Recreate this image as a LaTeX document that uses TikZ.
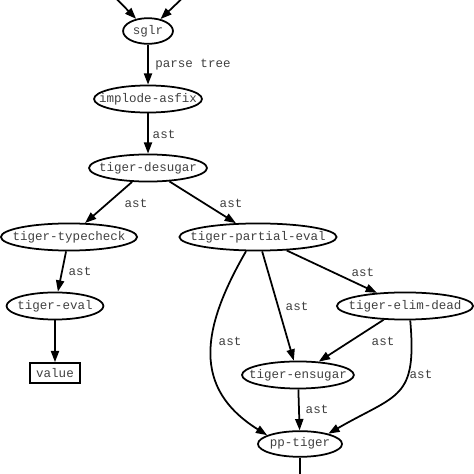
\documentclass[tikz,border=0pt]{standalone}
\usepackage{fontspec}
\setmonofont{Liberation Mono}
\usetikzlibrary{shapes.geometric, arrows.meta}

\newcommand{\stagename}[1]{\makebox[0pt]{\strut#1}}

\begin{document}
\begin{tikzpicture}[
        stage/.style={ellipse, draw=black, line width=1.4pt, inner sep=0pt, minimum height=0.76cm, font=\ttfamily, text=black!75},
        result/.style={rectangle, draw=black, line width=1.4pt, minimum width=1.4cm, minimum height=0.56cm, inner sep=0pt, font=\ttfamily, text=black!75},
        arrow/.style={-{Triangle[length=9pt,width=6.5pt]}, line width=1.4pt},
        elabel/.style={font=\ttfamily, text=black!75}
    ]
    \useasboundingbox (0,0) rectangle (13.3,13.3);

    % Front end
    \coordinate (in1) at (2.97, 13.64);
    \coordinate (in2) at (5.42, 13.64);
    \node (sglr) at (4.153, 12.43) [stage, minimum width=1.4cm, minimum height=0.72cm] {\stagename{sglr}};
    \node (implode) at (4.153, 10.522) [stage, minimum width=3.03cm] {\stagename{implode-asfix}};
    \node (desugar) at (4.153, 8.586) [stage, minimum width=3.31cm] {\stagename{tiger-desugar}};

    \draw[arrow] (in1) -- (sglr);
    \draw[arrow] (in2) -- (sglr);
    \draw[arrow] (sglr) -- (implode) node[elabel] at (5.415, 11.476) {parse tree};
    \draw[arrow] (implode) -- (desugar) node[elabel] at (4.602, 9.54) {ast};

    % Evaluation branch
    \node (typecheck) at (1.936, 6.65) [stage, minimum width=3.82cm] {\stagename{tiger-typecheck}};
    \node (eval) at (1.543, 4.714) [stage, minimum width=2.72cm] {\stagename{tiger-eval}};
    \node (value) at (1.543, 2.834) [result] {value};

    \draw[arrow] (desugar) -- (typecheck) node[elabel] at (3.816, 7.604) {ast};
    \draw[arrow] (typecheck) -- (eval) node[elabel] at (2.245, 5.696) {ast};
    \draw[arrow] (eval) -- (value);

    % Compiler branch
    \node (partial) at (7.239, 6.65) [stage, minimum width=4.41cm] {\stagename{tiger-partial-eval}};
    \node (elimdead) at (11.364, 4.714) [stage, minimum width=3.82cm] {\stagename{tiger-elim-dead}};
    \node (ensugar) at (8.36, 2.778) [stage, minimum width=3.14cm] {\stagename{tiger-ensugar}};
    \node (pptiger) at (8.418, 0.842) [stage, minimum width=2.36cm, minimum height=0.72cm] {\stagename{pp-tiger}};
    \coordinate (out) at (8.418, -0.34);

    \draw[arrow] (desugar) -- (partial) node[elabel] at (6.482, 7.604) {ast};
    \draw[arrow] (partial) -- (elimdead) node[elabel] at (10.185, 5.668) {ast};
    \draw[arrow] (partial) -- (ensugar) node[elabel] at (8.334, 4.714) {ast};
    \draw[arrow] (partial.230) .. controls +(240:2.5) and +(148:2.5) .. (pptiger.165)
        node[elabel] at (6.454, 3.732) {ast};
    \draw[arrow] (elimdead) -- (ensugar) node[elabel] at (10.747, 3.732) {ast};
    \draw[arrow] (elimdead.290) .. controls +(275:2.24) and +(30:2.24) .. (pptiger.20)
        node[elabel] at (11.813, 2.806) {ast};
    \draw[arrow] (ensugar) -- (pptiger) node[elabel] at (8.895, 1.824) {ast};
    \draw[arrow] (pptiger) -- (out);

\end{tikzpicture}
\end{document}
